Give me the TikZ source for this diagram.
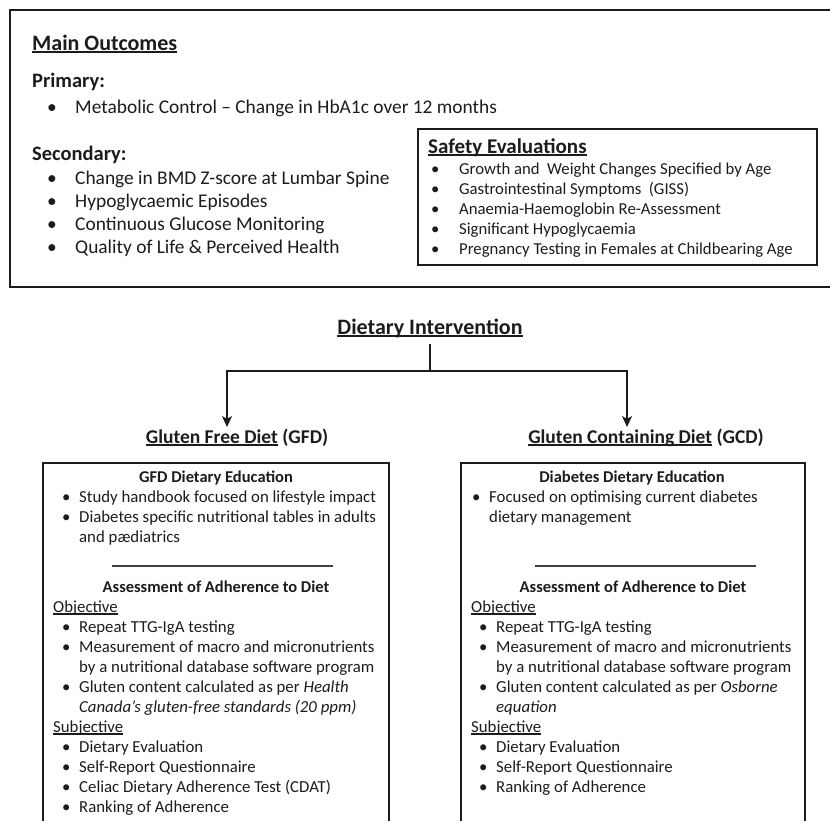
\documentclass[tikz,border=0pt]{standalone}
\usepackage{fontspec}
\setmainfont{Carlito}
\usetikzlibrary{arrows.meta}

\definecolor{ink}{HTML}{1C1C1C}
\newcommand{\undl}[1]{\setbox0\hbox{#1}\rlap{\rule[-2.8pt]{\wd0}{1.5pt}}\box0\relax}
\newcommand{\bigbl}{\makebox[28pt][l]{\textbullet}}
\newcommand{\bl}{\makebox[17pt][l]{\textbullet}}
\newcommand{\nb}{\hspace*{17pt}}

\begin{document}
\begin{tikzpicture}[x=1pt,y=-1pt,
    txt/.style={anchor=base west,inner sep=0pt,text=ink},
    mid/.style={anchor=base,inner sep=0pt,text=ink},
    frame/.style={draw=ink,line width=1.3pt},
    link/.style={draw=ink,line width=1.5pt},
    title/.style={font=\fontsize{22}{26}\selectfont\bfseries},
    head/.style={font=\fontsize{20.5}{24}\selectfont\bfseries},
    body/.style={font=\fontsize{19.4}{23}\selectfont},
    dhead/.style={font=\fontsize{19.5}{23}\selectfont\bfseries},
    shead/.style={font=\fontsize{21}{24}\selectfont\bfseries},
    sbody/.style={font=\fontsize{16.7}{20}\selectfont},
    bhead/.style={font=\fontsize{16.5}{20}\selectfont\bfseries},
    bbody/.style={font=\fontsize{16.8}{20}\selectfont}]
    \clip (0,0) rectangle (830,820);
    \fill[white] (0,0) rectangle (830,820);

    % outcomes
    \draw[frame] (10,10) rectangle (850,287);
    \node[txt,title] (main) at (32,50) {\undl{Main Outcomes}};
    \node[txt,head] (prim) at (32,87) {Primary:};
    \node[txt,body] (prim1) at (47,113) {\bigbl Metabolic Control -- Change in HbA1c over 12 months};
    \node[txt,head] (sec) at (32,160) {Secondary:};
    \foreach \t [count=\i] in {Change in BMD Z-score at Lumbar Spine,Hypoglycaemic Episodes,
        Continuous Glucose Monitoring,Quality of Life \& Perceived Health}
        \node[txt,body] (sec\i) at (47,{161+23*\i}) {\bigbl\t};

    % safety
    \draw[frame] (418,129) rectangle (817,265);
    \node[txt,shead] (safe) at (428,153) {\undl{Safety Evaluations}};
    \foreach \t [count=\i] in {Growth and\ \ Weight Changes Specified by Age,Gastrointestinal Symptoms\ \ (GISS),
        Anaemia-Haemoglobin Re-Assessment,Significant Hypoglycaemia,Pregnancy Testing in Females at Childbearing Age}
        \node[txt,sbody] (safe\i) at (431,{155+19.8*\i}) {\bigbl\t};

    % intervention
    \node[mid,title] (di) at (430,334) {\undl{Dietary Intervention}};
    \node[mid,dhead] (gfd) at (237,443) {\undl{Gluten Free Diet} (GFD)};
    \node[mid,dhead] (gcd) at (646,443) {\undl{Gluten Containing Diet} (GCD)};
    \coordinate (fork) at (430,371);
    \coordinate (gfdtip) at (227,427);
    \coordinate (gcdtip) at (627,427);
    \draw[link] ([yshift=-6pt]di.south) -- (fork);
    \draw[link,-{Stealth[length=11pt,width=10pt,inset=3pt]}] (fork) -| (gfdtip);
    \draw[link,-{Stealth[length=11pt,width=10pt,inset=3pt]}] (fork) -| (gcdtip);

    % GFD box
    \draw[frame] (43,463) rectangle (389,850);
    \node[mid,bhead] (gfded) at (216,482) {GFD Dietary Education};
    \foreach \t [count=\i] in {\bl Study handbook focused on lifestyle impact,
        \bl Diabetes specific nutritional tables in adults,\nb and pædiatrics}
        \node[txt,bbody] (gfded\i) at (62,{483+19.7*\i}) {\t};
    \draw[line width=1.6pt,draw=ink!85] (112,566) -- (333,566);
    \node[mid,bhead] (gfdad) at (216,592) {Assessment of Adherence to Diet};
    \node[txt,bbody] (gfdobj) at (53,612) {\undl{Objective}};
    \foreach \t [count=\i] in {\bl Repeat TTG-IgA testing,\bl Measurement of macro and micronutrients,
        \nb by a nutritional database software program,\bl Gluten content calculated as per \textit{Health},
        \nb\textit{Canada’s gluten-free standards (20 ppm)}}
        \node[txt,bbody] (gfdobj\i) at (62,{612+20*\i}) {\t};
    \node[txt,bbody] (gfdsub) at (53,732) {\undl{Subjective}};
    \foreach \t [count=\i] in {Dietary Evaluation,Self-Report Questionnaire,
        Celiac Dietary Adherence Test (CDAT),Ranking of Adherence}
        \node[txt,bbody] (gfdsub\i) at (62,{732+20*\i}) {\bl\t};

    % GCD box
    \draw[frame] (461,463) rectangle (805,850);
    \node[mid,bhead] (gcded) at (632,482) {Diabetes Dietary Education};
    \foreach \t [count=\i] in {\bl Focused on\ optimising current diabetes,\nb dietary management}
        \node[txt,bbody] (gcded\i) at (472,{483+19.7*\i}) {\t};
    \draw[line width=1.6pt,draw=ink!85] (535,566) -- (756,566);
    \node[mid,bhead] (gcdad) at (633,592) {Assessment of Adherence to Diet};
    \node[txt,bbody] (gcdobj) at (471,612) {\undl{Objective}};
    \foreach \t [count=\i] in {\bl Repeat TTG-IgA testing,\bl Measurement of macro and micronutrients,
        \nb by a nutritional database software program,\bl Gluten content calculated as per \textit{Osborne},
        \nb\textit{equation}}
        \node[txt,bbody] (gcdobj\i) at (479,{612+20*\i}) {\t};
    \node[txt,bbody] (gcdsub) at (471,732) {\undl{Subjective}};
    \foreach \t [count=\i] in {Dietary Evaluation,Self-Report Questionnaire,Ranking of Adherence}
        \node[txt,bbody] (gcdsub\i) at (479,{732+20*\i}) {\bl\t};
\end{tikzpicture}
\end{document}
